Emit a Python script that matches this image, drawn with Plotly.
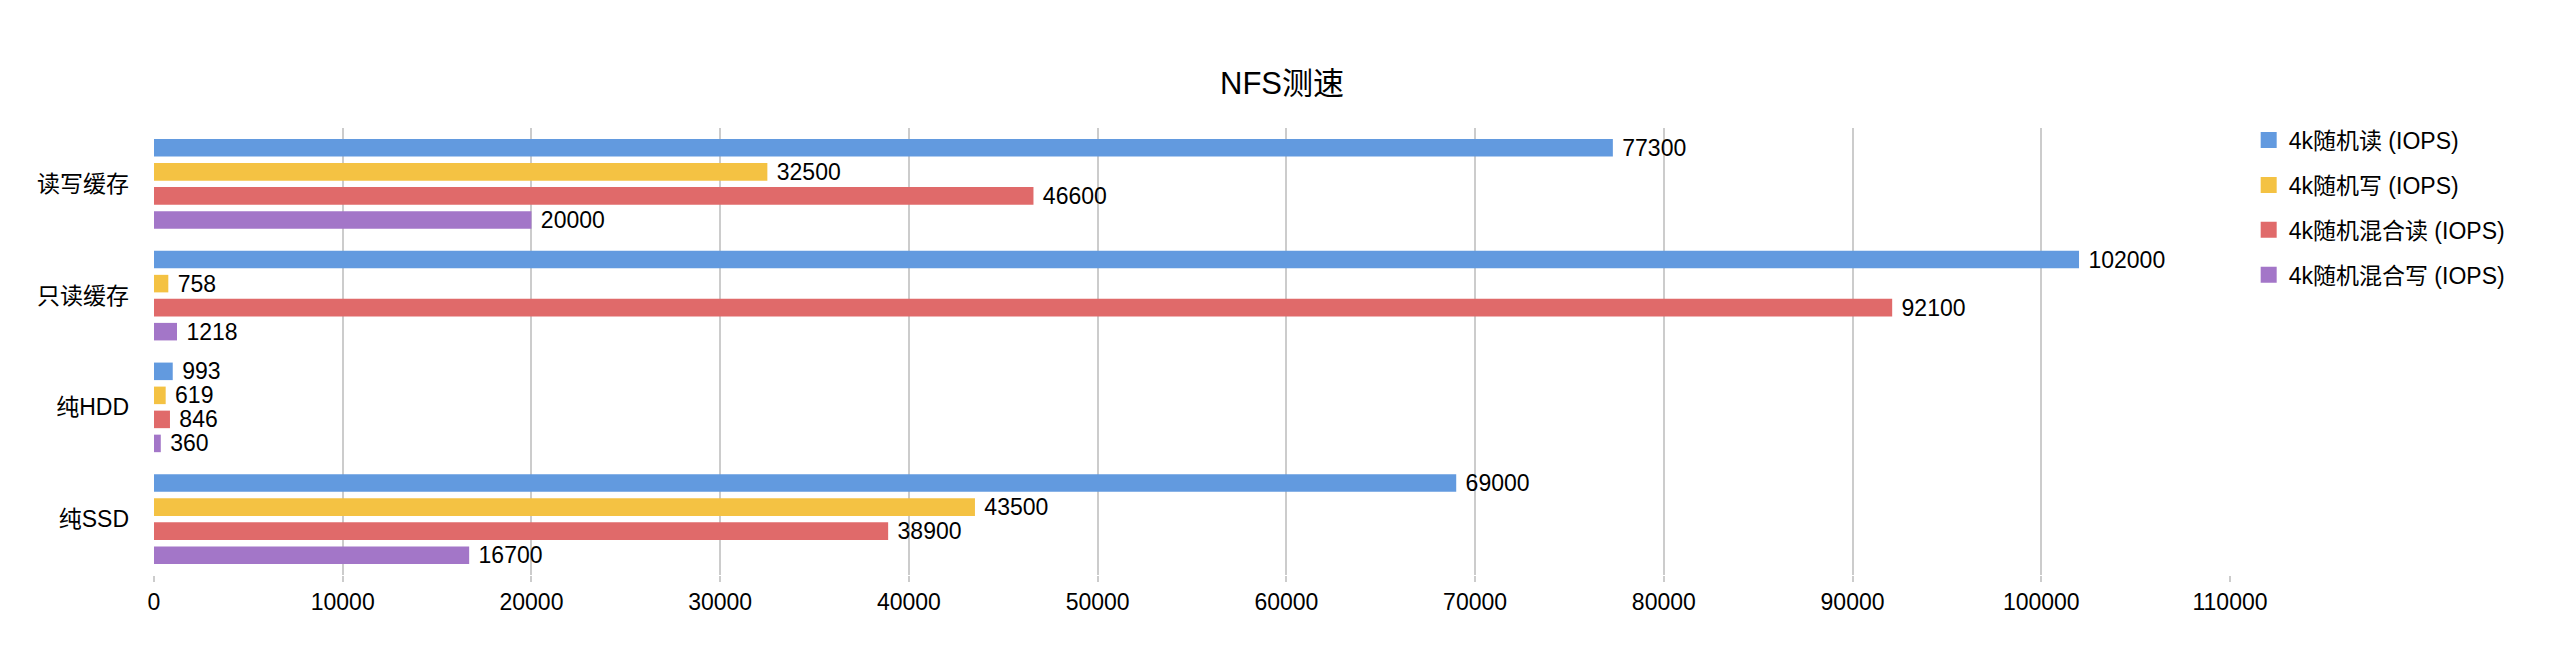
import plotly.graph_objects as go

categories = ["读写缓存", "只读缓存", "纯HDD", "纯SSD"]
series_names = ["4k随机读 (IOPS)", "4k随机写 (IOPS)", "4k随机混合读 (IOPS)", "4k随机混合写 (IOPS)"]
rand_read = [77300, 102000, 993, 69000]
rand_write = [32500, 758, 619, 43500]
mixed_read = [46600, 92100, 846, 38900]
mixed_write = [20000, 1218, 360, 16700]
colors = ["#629ADF", "#F4C243", "#E06A6A", "#A376C8"]
x_ticks = list(range(0, 110001, 10000))

FONT = "Liberation Sans, Arial, Noto Sans CJK SC, sans-serif"

fig = go.Figure()
for name, vals, col in zip(series_names, [rand_read, rand_write, mixed_read, mixed_write], colors):
    fig.add_trace(go.Bar(
        y=categories, x=vals, name=name, orientation="h",
        marker=dict(color=col, line=dict(width=0)),
        text=["\u00a0" + str(v) for v in vals], textposition="outside",
        constraintext="none",
        textfont=dict(size=23, color="#000000", family=FONT),
        cliponaxis=False, legendgroup=name, showlegend=False,
    ))
# legend entries with larger square swatches
for name, col in zip(series_names, colors):
    fig.add_trace(go.Scatter(
        x=[None], y=[None], mode="markers", name=name, legendgroup=name,
        marker=dict(symbol="square", size=16, color=col, line=dict(width=0)),
        showlegend=True, hoverinfo="skip",
    ))

W, H = 2544, 646
fig.update_layout(
    width=W, height=H,
    paper_bgcolor="white", plot_bgcolor="white",
    margin=dict(l=146, r=322, t=120, b=79),
    barmode="group", bargap=0.14, bargroupgap=0.27,
    title=dict(text="NFS测速", x=1274 / W, xanchor="center", y=1 - 75 / H, yanchor="middle",
               font=dict(size=31, color="#000000", family=FONT)),
    font=dict(family=FONT, size=23, color="#000000"),
    legend=dict(x=1.009, xanchor="left", y=1.021, yanchor="top",
                font=dict(size=23, color="#000000", family=FONT),
                tracegroupgap=12, itemsizing="trace", bgcolor="rgba(0,0,0,0)"),
)
fig.update_xaxes(range=[0, 110000], tickvals=x_ticks, ticktext=[str(v) for v in x_ticks],
                 showgrid=True, gridcolor="#CCCCCC", gridwidth=1.5, zeroline=False,
                 ticks="outside", ticklen=6, tickcolor="#CCCCCC", tickwidth=1.5,
                 tickfont=dict(size=23, color="#000000"), showline=False, fixedrange=True)
fig.update_yaxes(autorange="reversed", showgrid=False, zeroline=False, showline=False,
                 ticks="", ticklabelstandoff=24, tickfont=dict(size=23, color="#000000"))

fig.write_html("out.html")
